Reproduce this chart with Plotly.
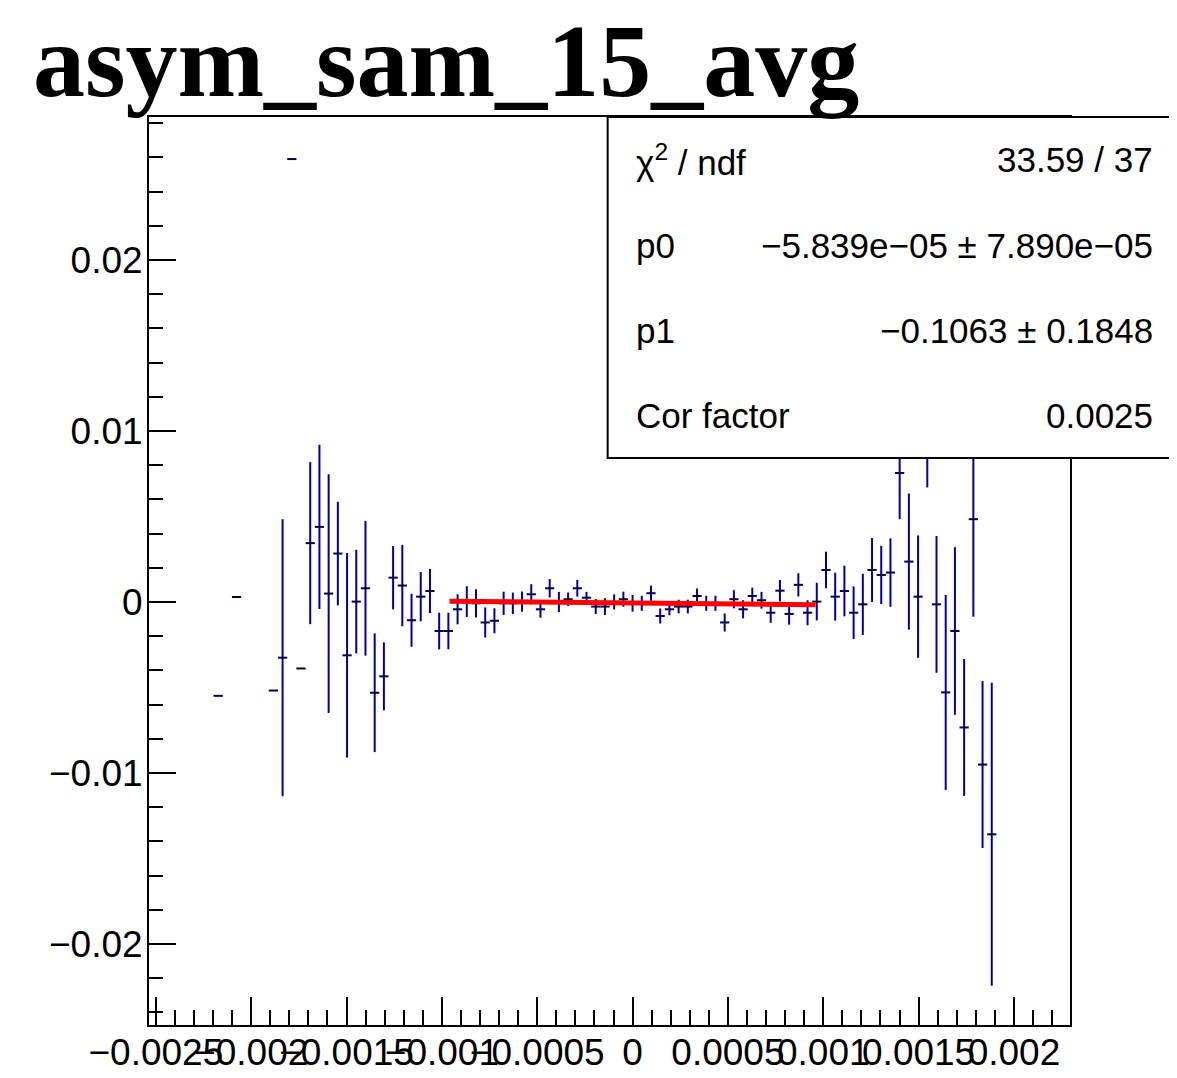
import numpy as np
import plotly.graph_objects as go

# histogram asym_sam_15_avg : bin index, content, error
BIN_W = 4.83e-5
bins = [-45, -43, -39, -38, -37, -36, -35, -34, -33, -32, -31, -30, -29, -28,
        -27, -26, -25, -24, -23, -22, -21, -20, -19, -18, -17, -16, -15, -14,
        -13, -12, -11, -10, -9, -8, -7, -6, -5, -4, -3, -2, -1, 0, 1, 2, 3, 4,
        5, 6, 7, 8, 9, 10, 11, 12, 13, 14, 15, 16, 17, 18, 19, 20, 21, 22, 23,
        24, 25, 26, 27, 28, 29, 30, 31, 32, 33, 34, 35, 36, 37, 38, 39]
content = [-0.00549, 0.00029, -0.00518, -0.00326, 0.0259, -0.00389, 0.00344,
           0.00439, 0.00049, 0.00283, -0.00312, 0.00002, 0.0008, -0.00531,
           -0.00435, 0.00142, 0.00096, -0.00107, 0.00031, 0.00064, -0.0017,
           -0.0017, -0.00043, 0.00002, -0.00008, -0.0012, -0.0011, -0.00008,
           -0.00008, 0.00002, 0.00045, -0.00043, 0.0008, 0.0, 0.00016, 0.0008,
           0.00025, -0.00027, -0.00027, 0.0, 0.00016, -0.00008, -0.00008,
           0.00051, -0.00082, -0.00043, -0.00027, -0.00027, 0.00035, -0.00008,
           -0.00008, -0.0012, 0.00016, -0.00043, 0.00035, 0.0001, -0.00063,
           0.00066, -0.0007, 0.001, -0.00063, 0.00002, 0.00187, 0.00031,
           0.00064, -0.00063, -0.00014, 0.00187, 0.00158, 0.00172, 0.00754,
           0.00236, 0.00031, 0.0097, -0.00014, -0.00529, -0.0017, -0.00734,
           0.00484, -0.00951, -0.01359]
errors = [0, 0, 0, 0.0081, 0, 0, 0.00474, 0.0048, 0.00698, 0.00303, 0.00598,
          0.00303, 0.00394, 0.00347, 0.00199, 0.00185, 0.00238, 0.00155,
          0.00144, 0.00129, 0.00107, 0.00107, 0.00088, 0.0009, 0.00083,
          0.00088, 0.00073, 0.00068, 0.00063, 0.00059, 0.00059, 0.00049,
          0.00054, 0.00059, 0.00039, 0.00049, 0.00034, 0.00044, 0.00049,
          0.00044, 0.00044, 0.00049, 0.00044, 0.00044, 0.00044, 0.00035,
          0.0004, 0.0004, 0.00044, 0.00044, 0.00044, 0.00053, 0.00053,
          0.00053, 0.00049, 0.00049, 0.00059, 0.00063, 0.00063, 0.00068,
          0.00073, 0.0011, 0.00107, 0.0014, 0.00148, 0.00154, 0.00179,
          0.00187, 0.0017, 0.002, 0.0027, 0.00398, 0.00358, 0.003, 0.004,
          0.0057, 0.0049, 0.004, 0.0057, 0.00488, 0.00886]

# pol1 fit result
p0, p1 = -5.839e-05, -0.1063
fit_range = [-0.00096, 0.00096]
stats_rows = [("χ<sup>2</sup> / ndf", "33.59 / 37"),
              ("p0", "−5.839e−05 ± 7.890e−05"),
              ("p1", "−0.1063 ± 0.1848"),
              ("Cor factor", "0.0025")]

x_ticks = [-0.0025, -0.002, -0.0015, -0.001, -0.0005, 0, 0.0005, 0.001, 0.0015, 0.002]
x_labels = ["−0.0025", "−0.002", "−0.0015", "−0.001", "−0.0005", "0",
            "0.0005", "0.001", "0.0015", "0.002"]
y_ticks = [-0.02, -0.01, 0, 0.01, 0.02]
y_labels = ["−0.02", "−0.01", "0", "0.01", "0.02"]

x = np.array(bins) * BIN_W
fit_x = np.array(fit_range)

fig = go.Figure()
fig.add_scatter(
    x=x, y=content, mode='markers',
    marker=dict(size=1, color='rgba(0,0,0,0)'),
    error_y=dict(type='data', array=errors, width=0, thickness=2, color='#0000a0'),
    error_x=dict(type='data', array=[BIN_W / 2] * len(x), width=0, thickness=2,
                 color='#000044'),
    showlegend=False,
)
fig.add_scatter(x=fit_x, y=p0 + p1 * fit_x, mode='lines',
                line=dict(color='#ff0000', width=5), showlegend=False)

axis_font = dict(family='Liberation Sans, Arial', size=37, color='black')
fig.update_xaxes(
    range=[-0.002536, 0.002294], showgrid=False, zeroline=False,
    showline=True, linecolor='black', linewidth=2, mirror=True,
    ticks='inside', ticklen=28, tickwidth=2, tickcolor='black',
    tickmode='array', tickvals=x_ticks, ticktext=x_labels, tickfont=axis_font,
    tickangle=0, automargin=False, ticklabelstandoff=-6,
    minor=dict(dtick=0.0001, tick0=0, ticks='inside', ticklen=15,
               tickwidth=2, tickcolor='black'),
)
fig.update_yaxes(
    range=[-0.02474, 0.02836], showgrid=False, zeroline=False,
    showline=True, linecolor='black', linewidth=2, mirror=True,
    ticks='inside', ticklen=27, tickwidth=2, tickcolor='black',
    tickmode='array', tickvals=y_ticks, ticktext=y_labels, tickfont=axis_font,
    automargin=False, ticklabelstandoff=-3,
    minor=dict(dtick=0.002, tick0=0, ticks='inside', ticklen=14,
               tickwidth=2, tickcolor='black'),
)

# stats box (runs off the right edge of the canvas, so no right border)
fig.add_shape(type='rect', xref='paper', yref='paper', x0=0.498, x1=1.25,
              y0=0.6244, y1=1.0, line=dict(width=0),
              fillcolor='white', layer='above')
fig.add_shape(type='path', xref='paper', yref='paper',
              path='M 1.25,1.0 L 0.498,1.0 L 0.498,0.6244 L 1.25,0.6244',
              line=dict(color='black', width=2), layer='above')
row_y = [160, 245, 330, 415]
for (lab, val), py in zip(stats_rows, row_y):
    yp = (1025 - py) / 908
    fig.add_annotation(text=lab, xref='paper', yref='paper', x=(634 - 149) / 921,
                       y=yp, xanchor='left', yanchor='middle', showarrow=False,
                       font=dict(family='Liberation Sans, Arial', size=35, color='black'))
    fig.add_annotation(text=val, xref='paper', yref='paper', x=(1155 - 149) / 921,
                       y=yp, xanchor='right', yanchor='middle', showarrow=False,
                       font=dict(family='Liberation Sans, Arial', size=35, color='black'))

fig.add_annotation(text='asym_sam_15_avg', xref='paper', yref='paper',
                   x=(31 - 149) / 921, y=1 + (117 - 61) / 908,
                   xanchor='left', yanchor='middle', showarrow=False,
                   font=dict(family='Liberation Serif, Times New Roman', size=104,
                             color='black', weight='bold'))

fig.update_layout(
    width=1169, height=1070,
    margin=dict(l=141, r=107, t=109, b=53),
    paper_bgcolor='white', plot_bgcolor='white',
)
fig.write_html("out.html")
